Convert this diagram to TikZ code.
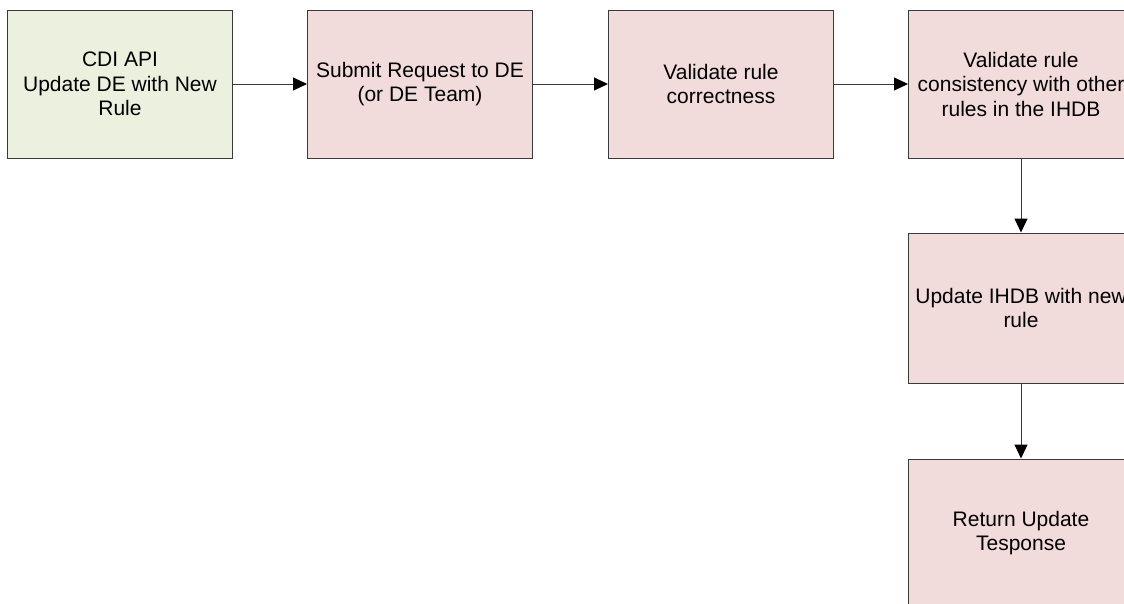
\documentclass[tikz,border=0pt]{standalone}
\usepackage{fontspec}
\setmainfont{Liberation Sans}
\usetikzlibrary{arrows.meta}
\definecolor{boxgreen}{HTML}{EBF1DE}
\definecolor{boxpink}{HTML}{F2DCDB}
\definecolor{edgegray}{HTML}{3A3A3A}
\tikzset{
  flowbox/.style={draw=edgegray, line width=1pt, inner sep=0pt, minimum height=148pt,
    align=center, font=\fontsize{21}{24.5}\selectfont},
  wide/.style={minimum width=225pt},
  greenbox/.style={flowbox, wide, fill=boxgreen},
  pinkbox/.style={flowbox, wide, fill=boxpink},
  flowarrow/.style={draw=edgegray, line width=1pt, -{Triangle[length=14pt,width=13pt,color=black]}}
}
\begin{document}
\begin{tikzpicture}[x=1pt,y=-1pt]
\clip (0,0) rectangle (1124,603);
\fill[white] (0,0) rectangle (1124,603);
\node[greenbox] (api) at (120,84) {CDI API\\Update DE with New\\Rule};
\node[pinkbox] (submit) at (420,84) {Submit Request to DE\\(or DE Team)};
\node[pinkbox] (correct) at (721,84) {Validate rule\\correctness};
\node[pinkbox] (consist) at (1021,84) {Validate rule\\consistency with other\\rules in the IHDB};
\node[pinkbox, minimum height=150pt] (update) at (1021,308) {Update IHDB with new\\rule};
\node[pinkbox] (response) at (1021,533) {Return Update\\Tesponse};
\draw[flowarrow] (api) -- (submit);
\draw[flowarrow] (submit) -- (correct);
\draw[flowarrow] (correct) -- (consist);
\draw[flowarrow] (consist) -- (update);
\draw[flowarrow] (update) -- (response);
\end{tikzpicture}
\end{document}
